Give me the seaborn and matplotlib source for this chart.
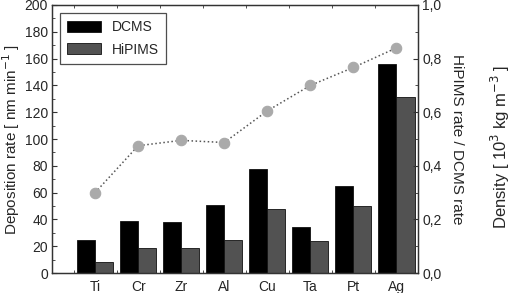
import pandas as pd
import seaborn as sns
import matplotlib.pyplot as plt
from matplotlib.ticker import MultipleLocator, FuncFormatter

# Data
metals = ['Ti', 'Cr', 'Zr', 'Al', 'Cu', 'Ta', 'Pt', 'Ag']
dcms = [25, 39, 38, 51, 78, 34, 65, 156]
hipims = [8, 19, 19, 25, 48, 24, 50, 131]
ratio = [0.30, 0.475, 0.495, 0.487, 0.605, 0.70, 0.767, 0.84]

data = pd.DataFrame({'Metal': metals * 2,
                     'Rate': dcms + hipims,
                     'Process': ['DCMS'] * len(metals) + ['HiPIMS'] * len(metals)})

sns.set_style('ticks')
plt.rcParams['font.family'] = ['Liberation Sans', 'DejaVu Sans']

fig = plt.figure(figsize=(5.12, 2.93), dpi=100)
ax = fig.add_axes([0.1016, 0.068, 0.7148, 0.915])

sns.barplot(data=data, x='Metal', y='Rate', hue='Process', order=metals,
            palette={'DCMS': '#000000', 'HiPIMS': '#525252'},
            width=0.84, edgecolor='#111111', linewidth=0.6, saturation=1,
            ax=ax)

ax2 = ax.twinx()
sns.pointplot(x=metals, y=ratio, order=metals, ax=ax2, color='#555555',
              linestyle=':', marker='o', markersize=7.5, linewidth=1.1,
              markerfacecolor='#aaaaaa', markeredgecolor='#aaaaaa',
              errorbar=None)

ax.set_xlim(-1, 7.5)
ax.set_ylim(0, 200)
ax2.set_ylim(0, 1.0)

ax.yaxis.set_major_locator(MultipleLocator(20))
ax.yaxis.set_minor_locator(MultipleLocator(10))
ax2.yaxis.set_major_locator(MultipleLocator(0.2))
ax2.yaxis.set_minor_locator(MultipleLocator(0.1))
ax2.yaxis.set_major_formatter(FuncFormatter(lambda v, p: f'{v:.1f}'.replace('.', ',')))
ax.set_xticks([i - 0.5 for i in range(len(metals) + 1)], minor=True)

for a in (ax, ax2):
    for s in a.spines.values():
        s.set_visible(True)
        s.set_color('#333333')
        s.set_linewidth(0.9)
    a.tick_params(which='both', direction='in', color='#333333',
                  labelsize=10, top=True, pad=3)
    a.tick_params(which='major', length=3.5)
    a.tick_params(which='minor', length=2)
ax.tick_params(axis='x', which='major', length=0, pad=5)
ax.tick_params(axis='y', right=False)

ax.set_xlabel('')
ax.set_ylabel('Deposition rate [ nm min$^{-1}$ ]', fontsize=11, labelpad=2)
ax2.set_ylabel('HiPIMS rate / DCMS rate', fontsize=11, rotation=-90,
               labelpad=16)
fig.text(0.977, 0.5, 'Density [ 10$^{3}$ kg m$^{-3}$ ]', fontsize=12,
         rotation=90, ha='center', va='center')

leg = ax.legend(loc='upper left', fontsize=10, frameon=True, fancybox=False,
                edgecolor='#222222', handlelength=2.4, handleheight=0.8,
                borderaxespad=0.6, labelspacing=0.6, borderpad=0.5)
leg.get_frame().set_linewidth(0.9)
leg.set_title(None)

fig.savefig('out.png', dpi=100)
